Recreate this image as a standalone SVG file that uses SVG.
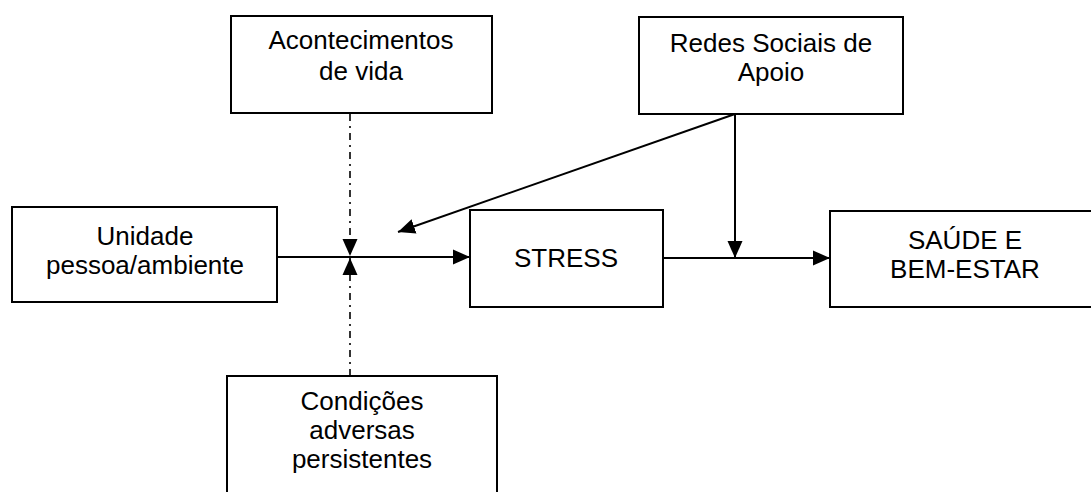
<svg xmlns="http://www.w3.org/2000/svg" width="1091" height="492" viewBox="0 0 1091 492">
<style>
.box{fill:#fff;stroke:#000;stroke-width:2}
.t{font-family:"Liberation Sans",Arial,sans-serif;font-size:26px;fill:#000;text-anchor:middle}
.ln{stroke:#000;stroke-width:2;fill:none}
.dd{stroke:#000;stroke-width:1.6;fill:none;stroke-dasharray:7 5 2 5}
</style>
<defs>
<marker id="ah" markerUnits="userSpaceOnUse" markerWidth="18" markerHeight="16" refX="17" refY="8" orient="auto">
<path d="M0,0.5 L17,8 L0,15.5 z" fill="#000" stroke="none"/>
</marker>
</defs>
<rect width="1091" height="492" fill="#fff"/>
<g id="connectors">
<line class="dd" x1="350" y1="114" x2="350" y2="256" marker-end="url(#ah)"/>
<line class="dd" x1="350" y1="376" x2="350" y2="258" marker-end="url(#ah)"/>
<line class="ln" x1="277" y1="257" x2="470" y2="257" marker-end="url(#ah)"/>
<line class="ln" x1="735" y1="114" x2="398" y2="232" marker-end="url(#ah)"/>
<line class="ln" x1="735" y1="114" x2="735" y2="258" marker-end="url(#ah)"/>
<line class="ln" x1="663" y1="258" x2="830" y2="258" marker-end="url(#ah)"/>
</g>
<g id="acontecimentos">
<rect class="box" x="231" y="16" width="261" height="97"/>
<text class="t" x="361" y="49">Acontecimentos</text>
<text class="t" x="361" y="80">de vida</text>
</g>
<g id="redes">
<rect class="box" x="639" y="17" width="264" height="97"/>
<text class="t" x="771" y="52">Redes Sociais de</text>
<text class="t" x="771" y="81">Apoio</text>
</g>
<g id="unidade">
<rect class="box" x="12" y="207" width="265" height="95"/>
<text class="t" x="145" y="245">Unidade</text>
<text class="t" x="145" y="274">pessoa/ambiente</text>
</g>
<g id="stress">
<rect class="box" x="470" y="210" width="193" height="97"/>
<text class="t" x="566" y="267">STRESS</text>
</g>
<g id="saude">
<rect class="box" x="830" y="211" width="272" height="96"/>
<text class="t" x="965" y="249">SAÚDE E</text>
<text class="t" x="965" y="278">BEM-ESTAR</text>
</g>
<g id="condicoes">
<rect class="box" x="227" y="376" width="270" height="130"/>
<text class="t" x="362" y="410">Condições</text>
<text class="t" x="362" y="439">adversas</text>
<text class="t" x="362" y="468">persistentes</text>
</g>
</svg>
